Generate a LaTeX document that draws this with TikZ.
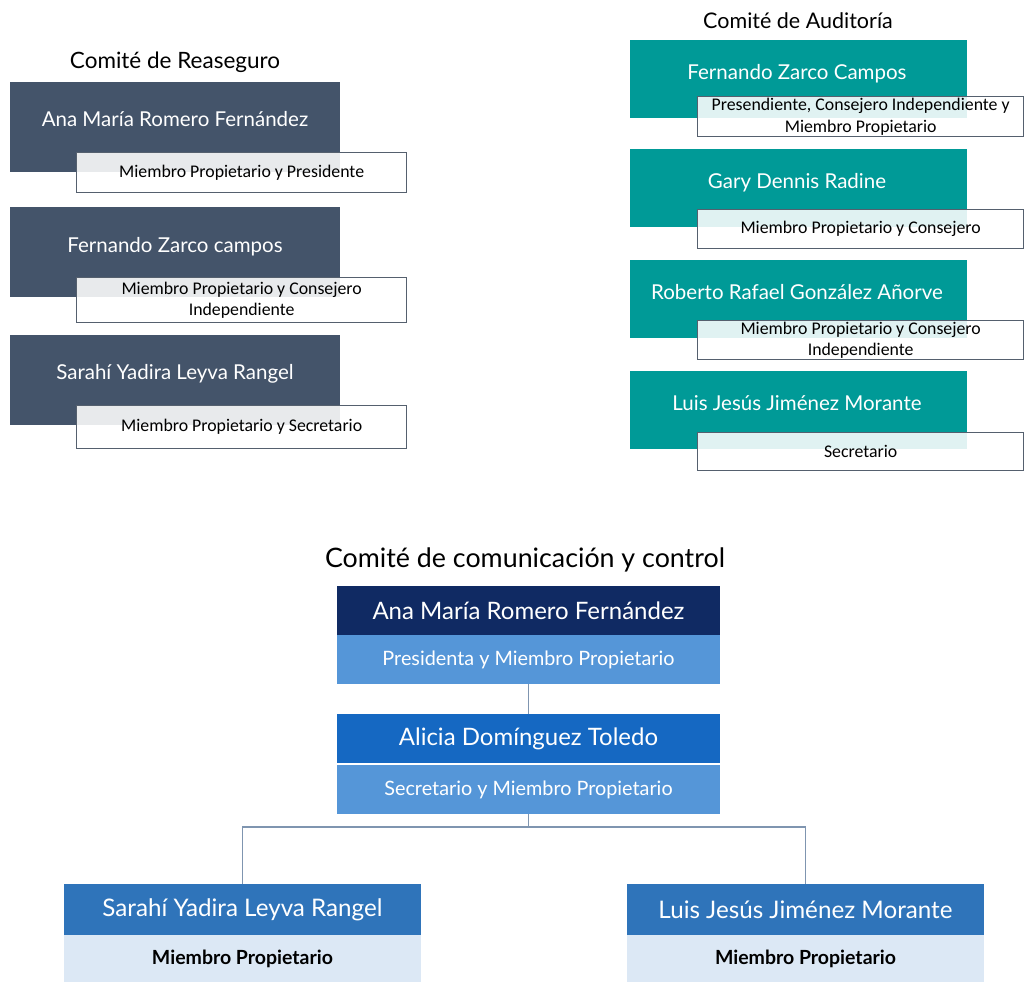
\documentclass[tikz,border=0pt]{standalone}
\usepackage{fontspec}
\setmainfont{Carlito}
\newfontfamily\gill{Lato}
\usetikzlibrary{calc}
\definecolor{slate}{HTML}{44546A}
\definecolor{teal2}{HTML}{009A97}
\definecolor{subborder}{HTML}{55606E}
\definecolor{navy}{HTML}{102A63}
\definecolor{bandA}{HTML}{5596D8}
\definecolor{midblue}{HTML}{1568C2}
\definecolor{lowblue}{HTML}{2F74BA}
\definecolor{palebl}{HTML}{DCE8F5}
\definecolor{linkc}{HTML}{7F95B0}
\begin{document}
\begin{tikzpicture}[x=1pt,y=-1pt,
  pbox/.style={draw=none,inner sep=0pt,outer sep=0pt,anchor=north west},
  slatebox/.style={pbox,fill=slate,minimum width=330pt,minimum height=90pt},
  tealbox/.style={pbox,fill=teal2,minimum width=337pt,minimum height=78pt},
  subbox/.style={draw=subborder,line width=1.3pt,fill=white,fill opacity=0.88,text opacity=1,
     anchor=north west,inner sep=0pt,align=center,text=black,
     font=\fontsize{17.8}{21.5}\selectfont},
  nametext/.style={text=white,inner sep=0pt,text height=.72em,text depth=.22em,font=\gill\fontsize{20.5}{24}\selectfont},
  titletext/.style={text=black,inner sep=0pt,text height=.72em,text depth=.22em},
  commtop/.style={pbox,minimum width=383pt,minimum height=49pt,text=white,font=\gill\fontsize{24}{28}\selectfont},
  commsub/.style={pbox,minimum width=383pt,minimum height=49pt,fill=bandA,text=white,font=\gill\fontsize{19.8}{23}\selectfont},
  bottop/.style={pbox,minimum width=357pt,minimum height=51pt,fill=lowblue,text=white,font=\gill\fontsize{24.2}{28}\selectfont},
  botsub/.style={pbox,minimum width=357pt,minimum height=47pt,fill=palebl,text=black,font=\gill\bfseries\fontsize{19.5}{23}\selectfont},
  link/.style={draw=linkc,line width=1.4pt}
]
\useasboundingbox (0,0) rectangle (1025,982);

% ---------- Comité de Reaseguro ----------
\node[titletext,font=\gill\fontsize{22.5}{26}\selectfont] (tR) at (175,66) {Comité de Reaseguro};

\node[slatebox] (r1) at (10,82) {};
\node[nametext] (r1n) at (175,124) {Ana María Romero Fernández};
\node[subbox,minimum width=330pt,minimum height=40pt] (r1s) at (76,152) {Miembro Propietario y Presidente};

\node[slatebox] (r2) at (10,207) {};
\node[nametext] (r2n) at (175,250) {Fernando Zarco campos};
\node[subbox,minimum width=330pt,minimum height=45pt] (r2s) at (76,277) {Miembro Propietario y Consejero\\Independiente};

\node[slatebox] (r3) at (10,335) {};
\node[nametext] (r3n) at (175,377) {Sarahí Yadira Leyva Rangel};
\node[subbox,minimum width=330pt,minimum height=43pt] (r3s) at (76,405) {Miembro Propietario y Secretario};

% ---------- Comité de Auditoría ----------
\node[titletext,font=\gill\fontsize{21.5}{25}\selectfont] (tA) at (798,26) {Comité de Auditoría};

\node[tealbox] (a1) at (630,40) {};
\node[nametext] (a1n) at (797,77) {Fernando Zarco Campos};
\node[subbox,minimum width=326pt,minimum height=40pt] (a1s) at (697,96) {Presendiente, Consejero Independiente y\\Miembro Propietario};

\node[tealbox] (a2) at (630,149) {};
\node[nametext] (a2n) at (797,186) {Gary Dennis Radine};
\node[subbox,minimum width=326pt,minimum height=39pt] (a2s) at (697,209) {Miembro Propietario y Consejero};

\node[tealbox] (a3) at (630,260) {};
\node[nametext] (a3n) at (797,297) {Roberto Rafael González Añorve};
\node[subbox,minimum width=326pt,minimum height=39pt] (a3s) at (697,320) {Miembro Propietario y Consejero\\Independiente};

\node[tealbox] (a4) at (630,371) {};
\node[nametext] (a4n) at (797,408) {Luis Jesús Jiménez Morante};
\node[subbox,minimum width=326pt,minimum height=38pt] (a4s) at (697,432) {Secretario};

% ---------- Comité de comunicación y control ----------
\node[titletext,font=\gill\fontsize{26.8}{30}\selectfont] (tC) at (525,565) {Comité de comunicación y control};

\node[commtop,fill=navy] (c1) at (337,586) {Ana María Romero Fernández};
\node[commsub] (c1s) at (337,635) {Presidenta y Miembro Propietario};

\node[commtop,fill=midblue] (c2) at (337,714) {Alicia Domínguez Toledo};
\node[commsub] (c2s) at (337,765) {Secretario y Miembro Propietario};

\node[bottop] (c3) at (64,884) {Sarahí Yadira Leyva Rangel};
\node[botsub] (c3s) at (64,935) {Miembro Propietario};

\node[bottop] (c4) at (627,884) {Luis Jesús Jiménez Morante};
\node[botsub] (c4s) at (627,935) {Miembro Propietario};

\coordinate (split) at ($(c2s.south)+(0,13)$);
\draw[link] (c1s.south) -- (c2.north);
\draw[link] (c2s.south) -- (split);
\draw[link] (split) -| (c3.north);
\draw[link] (split) -| (c4.north);
\end{tikzpicture}
\end{document}
